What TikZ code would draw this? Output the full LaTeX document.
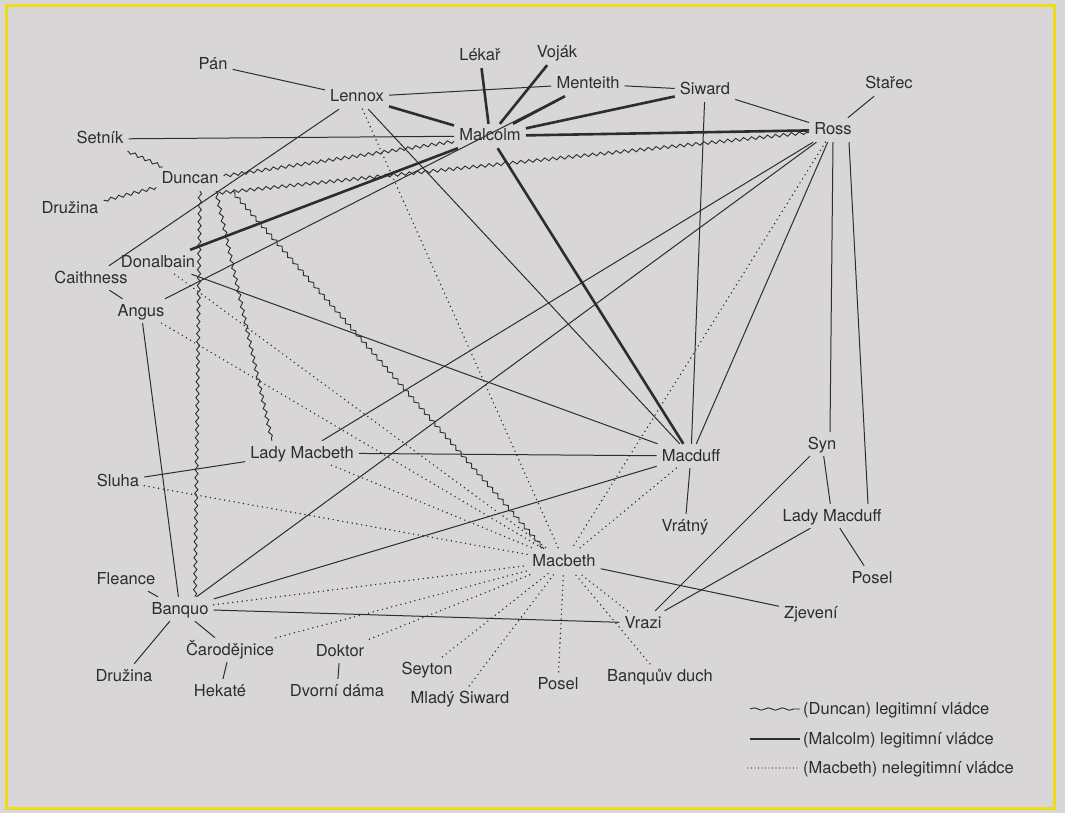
\documentclass[tikz,border=0pt]{standalone}
\usepackage{fontspec}
\setmainfont{TeX Gyre Heros}
\usetikzlibrary{decorations.pathmorphing}
\definecolor{paper}{RGB}{216,214,214}
\definecolor{ink}{RGB}{45,45,48}
\definecolor{frameyellow}{RGB}{236,220,28}

\begin{document}
\begin{tikzpicture}[x=1pt,y=-1pt,
  person/.style={text=ink, font=\fontsize{16.5}{19}\selectfont, inner sep=5pt,
                 text height=12pt, text depth=2pt},
  keytext/.style={person, anchor=west, inner sep=3pt},
  tie/.style={draw=ink, line width=1pt},
  heir/.style={draw=ink, line width=2.6pt},
  usurp/.style={draw=ink, line width=1.6pt, dash pattern=on 0pt off 4.8pt, line cap=round},
  king/.style={draw=ink, line width=0.9pt, decorate,
               decoration={snake, amplitude=1.6pt, segment length=8pt}},
]
% paper and frame
\fill[paper] (0,0) rectangle (1065,813);
\draw[frameyellow, line width=3pt] (6,6) rectangle (1054,808);

% characters
\node[person] (pan) at (213,65) {Pán};
\node[person] (lennox) at (357,97) {Lennox};
\node[person] (lekar) at (480,56) {Lékař};
\node[person] (vojak) at (557,53) {Voják};
\node[person] (menteith) at (588,84) {Menteith};
\node[person] (siward) at (705,90) {Siward};
\node[person] (starec) at (889,84) {Stařec};
\node[person] (ross) at (833,130) {Ross};
\node[person] (malcolm) at (490,136) {Malcolm};
\node[person] (setnik) at (100,139) {Setník};
\node[person] (duncan) at (190,179) {Duncan};
\node[person] (druzinaA) at (70,209) {Družina};
\node[person] (donalbain) at (158,262) {Donalbain};
\node[person] (caithness) at (91,278) {Caithness};
\node[person] (angus) at (141,311) {Angus};
\node[person] (ladymb) at (302,453) {Lady Macbeth};
\node[person] (sluha) at (118,481) {Sluha};
\node[person] (macduff) at (691,456) {Macduff};
\node[person] (vratny) at (685,526) {Vrátný};
\node[person] (syn) at (822,444) {Syn};
\node[person] (ladymd) at (832,516) {Lady Macduff};
\node[person] (poselB) at (872,578) {Posel};
\node[person] (zjeveni) at (811,613) {Zjevení};
\node[person] (macbeth) at (564,561) {Macbeth};
\node[person] (vrazi) at (643,623) {Vrazi};
\node[person] (duch) at (660,676) {Banquův duch};
\node[person] (poselA) at (558,684) {Posel};
\node[person] (mladysiward) at (460,698) {Mladý Siward};
\node[person] (seyton) at (427,669) {Seyton};
\node[person] (doktor) at (340,651) {Doktor};
\node[person] (dama) at (337,691) {Dvorní dáma};
\node[person] (carod) at (230,650) {Čarodějnice};
\node[person] (hekate) at (220,691) {Hekaté};
\node[person] (banquo) at (180,609) {Banquo};
\node[person] (fleance) at (126,579) {Fleance};
\node[person] (druzinaB) at (124,676) {Družina};

% ordinary relations
\foreach \a/\b in {pan/lennox, lennox/menteith, menteith/siward, siward/ross,
    starec/ross, setnik/malcolm, lennox/caithness, lennox/macduff,
    menteith/angus, siward/macduff, ross/ladymb, ross/banquo, ross/macduff,
    caithness/angus, angus/banquo, donalbain/macduff,
    ladymb/macduff, banquo/macduff, macduff/vratny, fleance/banquo,
    banquo/druzinaB, banquo/carod, banquo/vrazi, sluha/ladymb, carod/hekate,
    doktor/dama, macbeth/zjeveni, syn/ladymd, ladymd/poselB, syn/vrazi,
    ladymd/vrazi}
  \draw[tie] (\a) -- (\b);
\draw[tie] (ross.south) -- ([xshift=8pt]syn.north);
\draw[tie] ([xshift=16pt]ross.south) -- ([xshift=36pt]ladymd.north);

% Malcolm as rightful king
\foreach \a in {lennox, lekar, vojak, menteith, siward, ross, donalbain, macduff}
  \draw[heir] (malcolm) -- (\a);

% Duncan as rightful king
\foreach \a in {setnik, druzinaA}
  \draw[king] (duncan) -- (\a);
\draw[king] ([yshift=3pt]duncan.east) -- (malcolm);
\draw[king] ([xshift=26pt,yshift=-2pt]duncan.south) -- (ross);
\draw[king] ([xshift=10pt]duncan.south) -- ([xshift=15pt]banquo.north);
\draw[king] ([xshift=26pt]duncan.south) -- ([xshift=-30pt]ladymb.north);
\draw[king] ([xshift=42pt]duncan.south) -- ([xshift=-20pt]macbeth.north);

% Macbeth as usurper
\foreach \a in {lennox, donalbain, angus, ladymb, sluha, banquo, carod, doktor,
    seyton, mladysiward, poselA, duch, vrazi, macduff, ross}
  \draw[usurp] (\a) -- (macbeth);

% key
\node[keytext] (kking) at (800,709) {(Duncan) legitimní vládce};
\node[keytext] (kheir) at (800,739) {(Malcolm) legitimní vládce};
\node[keytext] (kusurp) at (800,768) {(Macbeth) nelegitimní vládce};
\coordinate (kkingstart) at (750,709);
\coordinate (kheirstart) at (750,739);
\coordinate (kusurpstart) at (748,768);
\draw[king, decoration={snake, amplitude=1.2pt, segment length=14pt}] (kkingstart) -- (kking.west);
\draw[heir] (kheirstart) -- (kheir.west);
\draw[usurp, line width=1.1pt, dash pattern=on 0pt off 3.5pt] (kusurpstart) -- (kusurp.west);
\end{tikzpicture}
\end{document}
